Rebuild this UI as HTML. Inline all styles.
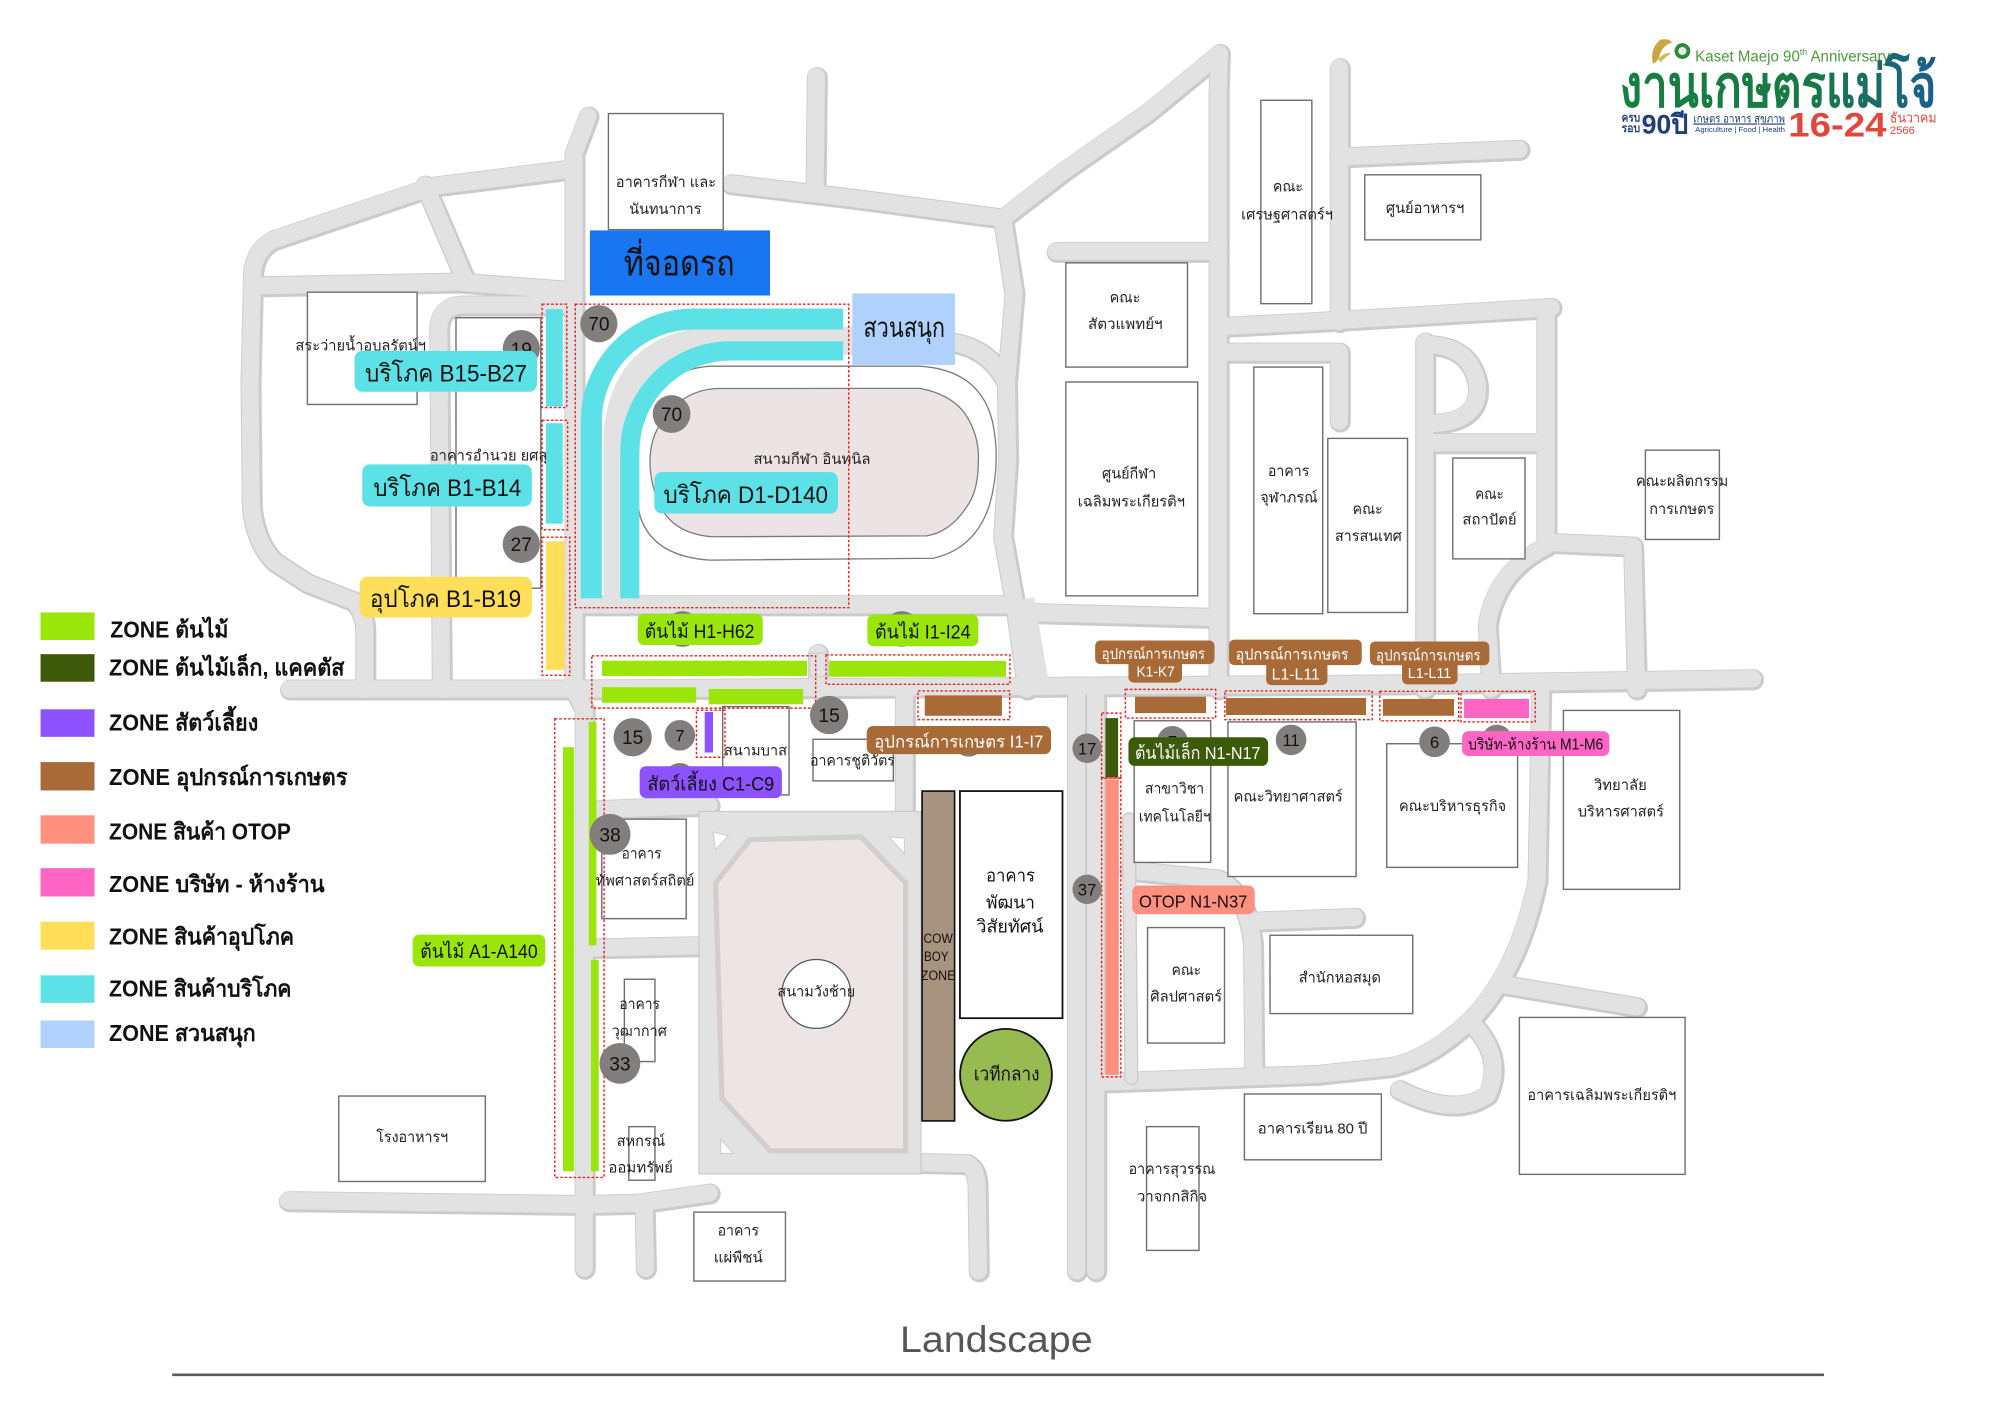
<!DOCTYPE html>
<html><head><meta charset="utf-8"><title>Kaset Maejo map</title>
<style>
html,body{margin:0;padding:0;background:#fff;width:2000px;height:1415px;overflow:hidden}
svg{display:block}
text{font-family:"Liberation Sans","DejaVu Sans",sans-serif}
.b{fill:#fff;stroke:#6e6e6e;stroke-width:1.1}
.bt{font-size:11.5px;fill:#222}
.dz{fill:none;stroke:#f21d1d;stroke-width:1.1;stroke-dasharray:2 1.5}
.c{fill:#827e7e}
.n{font-size:15px;fill:#111;text-anchor:middle}
.ns{font-size:13px;fill:#111;text-anchor:middle}
.lg{font-size:18px;font-weight:bold;fill:#111}
</style></head><body>
<svg width="2000" height="1415" viewBox="0 0 1568 1109" preserveAspectRatio="none" xmlns="http://www.w3.org/2000/svg">
<defs>
<g id="roads" fill="none" stroke-linecap="round" stroke-linejoin="round">
<path d="M227,540 L450,540 L800,538 L1100,536 L1374,532"/>
<path d="M461,91 L450,120 L450,540 L458,556 L458,994"/>
<path d="M443,133 L339,146 L214,188 Q199,196 198,215 L196,300 L197,397 Q200,425 215,440 L241,457 L277,471 Q286,480 286,495 L286,540"/>
<path d="M333,145 L365,220"/>
<path d="M202,224 L360,221 L450,228"/>
<path d="M450,239 L362,239 Q344,240 344,258 L346,540"/>
<path d="M640,60 L639,150"/>
<path d="M573,144 L666,155 L786,171"/>
<path d="M786,171 L834,134 L900,88 L956,42"/>
<path d="M956,42 L955,72 L955,540"/>
<path d="M828,197 L955,197"/>
<path d="M786,171 L795,230 L789,300 L790,360 L786,420 L795,470 L805,540"/>
<path d="M452,474 L790,474 L805,480 L955,484"/>
<path d="M1050,53 L1050,252"/>
<path d="M1050,123 L1191,117"/>
<path d="M955,256 L1050,251 L1216,241"/>
<path d="M955,276 L1050,276 L1050,330"/>
<path d="M1117,268 L1117,540"/>
<path d="M1117,270 Q1152,270 1158,300 Q1162,332 1118,332"/>
<path d="M1117,347 L1210,347"/>
<path d="M1212,241 L1212,425 L1280,428 L1283,540"/>
<path d="M1212,428 Q1172,448 1166,490 L1169,540"/>
<path d="M1208,540 L1205,690 Q1190,762 1152,800 Q1120,830 1090,836 L1033,842 L866,848"/>
<path d="M1175,771 L1283,789"/>
<path d="M1152,800 Q1180,828 1166,858 Q1140,876 1097,854"/>
<path d="M844,540 L844,996"/>
<path d="M859,540 L859,996"/>
<path d="M885,682 L955,689 Q978,700 982,740 L983,840"/>
<path d="M982,722 L1062,719"/>
<path d="M458,635 L556,631"/>
<path d="M458,743 L556,741"/>
<path d="M709,540 L709,642"/>
<path d="M226,941 L458,944 L500,943 L556,935"/>
<path d="M505,944 L506,994"/>
<path d="M716,911 L758,912 Q766,916 766,930 L767,996"/>
<path d="M641,512 L641,540"/>
<path d="M484,469 L484,350 Q484,268 568,266 L745,268 Q775,272 789,300"/>
</g>
<linearGradient id="lg" x1="0" x2="1" y1="0" y2="0">
<stop offset="0" stop-color="#15803f"/><stop offset="0.6" stop-color="#177a45"/><stop offset="1" stop-color="#1b5f8e"/>
</linearGradient>
</defs>
<rect width="1568" height="1109" fill="#fff"/>

<!-- roads -->
<use href="#roads" stroke="#cbcbcb" stroke-width="16.5" transform="translate(0.8,0.8)"/>
<use href="#roads" stroke="#e2e2e2" stroke-width="13.5"/>
<path d="M885,642 L887,845" stroke="#cbcbcb" stroke-width="11" stroke-linecap="round" fill="none"/>
<path d="M885,642 L887,845" stroke="#e2e2e2" stroke-width="9" stroke-linecap="round" fill="none"/>
<path d="M484,469 L484,350 Q484,268 568,266 L745,268" stroke="#e2e2e2" stroke-width="22" fill="none"/>
<path d="M800,470 L812,540" stroke="#e2e2e2" stroke-width="22" fill="none"/>

<!-- field ring + field -->
<rect x="548" y="636" width="174" height="284" fill="#e2e2e2" stroke="#cbcbcb" stroke-width="1"/>
<polygon points="588,658 675,656 710,692 710,902 604,902 566,861 561,692" fill="#ede4e5" stroke="#d4cdcd" stroke-width="4"/>
<polygon points="559,652 571,655 561,666" fill="#fff" stroke="#ccc" stroke-width="0.8"/>
<polygon points="697,656 709,657 709,669" fill="#fff" stroke="#ccc" stroke-width="0.8"/>
<polygon points="565,893 575,904 565,904" fill="#fff" stroke="#ccc" stroke-width="0.8"/>
<circle cx="640" cy="779" r="27" fill="#fff" stroke="#555" stroke-width="1"/>

<!-- stadium -->
<path d="M556.6,287 L721.3,287 Q768,290 778,330 Q785,362 776,395 Q765,430 731.7,437.5 L556.6,439 Q512,436 502,405 Q494,370 500,330 Q515,290 556.6,287 Z" fill="#fff" stroke="#7a7a7a" stroke-width="1"/>
<path d="M561.9,304.5 L721.3,304.4 Q750,310 760,330 Q768,345 767,362 Q767,385 757.9,397.2 Q745,417 726.5,420 L558,420.7 Q528,418 518,397 Q509.6,380 509.6,362 Q509.6,342 520,329.3 Q535,306 561.9,304.5 Z" fill="#ece3e4" stroke="#7a7a7a" stroke-width="1"/>

<!-- buildings -->
<rect class="b" x="477" y="89" width="90" height="91"/>
<rect class="b" x="241" y="229" width="86" height="88"/>
<rect class="b" x="357.5" y="249" width="66.5" height="212"/>
<rect class="b" x="988.5" y="78.6" width="40" height="159.4"/>
<rect class="b" x="1070" y="137" width="91" height="51"/>
<rect class="b" x="835.6" y="206" width="95.4" height="81.7"/>
<rect class="b" x="835.6" y="299.4" width="103.4" height="167.6"/>
<rect class="b" x="983" y="287.7" width="54" height="193.3"/>
<rect class="b" x="1041" y="343.6" width="62.5" height="136.4"/>
<rect class="b" x="1139" y="359" width="56.6" height="79"/>
<rect class="b" x="1290" y="352.8" width="58" height="70"/>
<rect class="b" x="566.6" y="553.8" width="52" height="69.2"/>
<rect class="b" x="637.4" y="579.4" width="63" height="32.6"/>
<rect class="b" x="471.8" y="642" width="66.2" height="78"/>
<rect class="b" x="489.5" y="767.5" width="24" height="64.5"/>
<rect class="b" x="493" y="883" width="20.5" height="42"/>
<rect class="b" x="265.6" y="859" width="114.9" height="67"/>
<rect class="b" x="544" y="950" width="71.8" height="54"/>
<rect x="752.6" y="620" width="80.4" height="178" fill="#fff" stroke="#111" stroke-width="1.4"/>
<rect x="722.9" y="620" width="25.5" height="258.5" fill="#a8937e" stroke="#111" stroke-width="1.3"/>
<circle cx="788.7" cy="842.4" r="36" fill="#98bb51" stroke="#111" stroke-width="1.4"/>
<rect class="b" x="889.2" y="564.9" width="60" height="111"/>
<rect class="b" x="962.7" y="565.8" width="100.5" height="121.2"/>
<rect class="b" x="1087.2" y="582.9" width="102.6" height="96.9"/>
<rect class="b" x="1225.7" y="556.8" width="91.2" height="140.2"/>
<rect class="b" x="899.7" y="727" width="60.3" height="90.5"/>
<rect class="b" x="995.7" y="733" width="111.9" height="61.4"/>
<rect class="b" x="1191.2" y="797.4" width="129.9" height="123"/>
<rect class="b" x="975.6" y="857.4" width="107.4" height="51.6"/>
<rect class="b" x="898.9" y="883" width="41.1" height="97"/>

<!-- building texts -->
<g class="bt" lengthAdjust="spacingAndGlyphs">
<text x="482.8" y="146.5" textLength="78.6" lengthAdjust="spacingAndGlyphs">อาคารกีฬา และ</text>
<text x="493.2" y="167.6" textLength="56.8" lengthAdjust="spacingAndGlyphs">นันทนาการ</text>
<text x="231.6" y="274.8" textLength="102.4" lengthAdjust="spacingAndGlyphs">สระว่ายน้ำอบลรัตน์ฯ</text>
<text x="337" y="361" textLength="100" lengthAdjust="spacingAndGlyphs">อาคารอำนวย ยศสุข</text>
<text x="590.7" y="363.6" textLength="91.8" lengthAdjust="spacingAndGlyphs">สนามกีฬา อินทนิล</text>
<text x="998" y="150" textLength="23.5" lengthAdjust="spacingAndGlyphs">คณะ</text>
<text x="973" y="172" textLength="72" lengthAdjust="spacingAndGlyphs">เศรษฐศาสตร์ฯ</text>
<text x="1086.5" y="167" textLength="61.5" lengthAdjust="spacingAndGlyphs">ศูนย์อาหารฯ</text>
<text x="870" y="237" textLength="24" lengthAdjust="spacingAndGlyphs">คณะ</text>
<text x="853" y="258" textLength="58.5" lengthAdjust="spacingAndGlyphs">สัตวแพทย์ฯ</text>
<text x="864" y="375" textLength="42.5" lengthAdjust="spacingAndGlyphs">ศูนย์กีฬา</text>
<text x="845" y="397" textLength="84" lengthAdjust="spacingAndGlyphs">เฉลิมพระเกียรติฯ</text>
<text x="994" y="373" textLength="32.5" lengthAdjust="spacingAndGlyphs">อาคาร</text>
<text x="988" y="394" textLength="45" lengthAdjust="spacingAndGlyphs">จุฬาภรณ์</text>
<text x="1060.5" y="403" textLength="23.5" lengthAdjust="spacingAndGlyphs">คณะ</text>
<text x="1046.5" y="424" textLength="52.5" lengthAdjust="spacingAndGlyphs">สารสนเทศ</text>
<text x="1156.5" y="391" textLength="22.5" lengthAdjust="spacingAndGlyphs">คณะ</text>
<text x="1146.5" y="411" textLength="42.5" lengthAdjust="spacingAndGlyphs">สถาปัตย์</text>
<text x="1282.5" y="381" textLength="72.5" lengthAdjust="spacingAndGlyphs">คณะผลิตกรรม</text>
<text x="1293" y="403" textLength="51" lengthAdjust="spacingAndGlyphs">การเกษตร</text>
<text x="567.5" y="592" textLength="49.5" lengthAdjust="spacingAndGlyphs">สนามบาส</text>
<text x="635" y="600" textLength="66.6" lengthAdjust="spacingAndGlyphs">อาคารชูติวัตร</text>
<text x="487.4" y="673" textLength="31.2" lengthAdjust="spacingAndGlyphs">อาคาร</text>
<text x="467" y="694" textLength="77.4" lengthAdjust="spacingAndGlyphs">ทัพศาสตร์สถิตย์</text>
<text x="485.6" y="791" textLength="31.8" lengthAdjust="spacingAndGlyphs">อาคาร</text>
<text x="479.6" y="812" textLength="43.2" lengthAdjust="spacingAndGlyphs">วุฒากาศ</text>
<text x="483.5" y="898" textLength="38" lengthAdjust="spacingAndGlyphs">สหกรณ์</text>
<text x="477" y="919" textLength="50.6" lengthAdjust="spacingAndGlyphs">ออมทรัพย์</text>
<text x="609.5" y="781" textLength="61" lengthAdjust="spacingAndGlyphs">สนามวังช้าย</text>
<text x="897.6" y="622" textLength="46.5" lengthAdjust="spacingAndGlyphs">สาขาวิชา</text>
<text x="892.8" y="644" textLength="56.4" lengthAdjust="spacingAndGlyphs">เทคโนโลยีฯ</text>
<text x="967.2" y="628" textLength="85.5" lengthAdjust="spacingAndGlyphs">คณะวิทยาศาสตร์</text>
<text x="1096.8" y="635.5" textLength="84" lengthAdjust="spacingAndGlyphs">คณะบริหารธุรกิจ</text>
<text x="1249.7" y="619" textLength="41.4" lengthAdjust="spacingAndGlyphs">วิทยาลัย</text>
<text x="1237" y="640" textLength="67.5" lengthAdjust="spacingAndGlyphs">บริหารศาสตร์</text>
<text x="918.6" y="764" textLength="23" lengthAdjust="spacingAndGlyphs">คณะ</text>
<text x="901.8" y="785" textLength="56.4" lengthAdjust="spacingAndGlyphs">ศิลปศาสตร์</text>
<text x="1018.2" y="770" textLength="64.5" lengthAdjust="spacingAndGlyphs">สำนักหอสมุด</text>
<text x="1197.5" y="862" textLength="116.7" lengthAdjust="spacingAndGlyphs">อาคารเฉลิมพระเกียรติฯ</text>
<text x="986.1" y="888.5" textLength="86" lengthAdjust="spacingAndGlyphs">อาคารเรียน 80 ปี</text>
<text x="884.8" y="920" textLength="68" lengthAdjust="spacingAndGlyphs">อาคารสุวรรณ</text>
<text x="891.4" y="941.5" textLength="55" lengthAdjust="spacingAndGlyphs">วาจกกสิกิจ</text>
<text x="295" y="895" textLength="56.4" lengthAdjust="spacingAndGlyphs">โรงอาหารฯ</text>
<text x="562.6" y="968.5" textLength="32.4" lengthAdjust="spacingAndGlyphs">อาคาร</text>
<text x="559.6" y="989.5" textLength="38.4" lengthAdjust="spacingAndGlyphs">แผ่พืชน์</text>
</g>
<g fill="#111" font-size="14">
<text x="773" y="691" textLength="38.4" lengthAdjust="spacingAndGlyphs">อาคาร</text>
<text x="773" y="712" textLength="38.4" lengthAdjust="spacingAndGlyphs">พัฒนา</text>
<text x="765.5" y="731" textLength="52.5" lengthAdjust="spacingAndGlyphs">วิสัยทัศน์</text>
</g>
<g fill="#111" font-size="10.5">
<text x="724" y="739" textLength="23" lengthAdjust="spacingAndGlyphs">COW</text>
<text x="724.4" y="753" textLength="19.2" lengthAdjust="spacingAndGlyphs">BOY</text>
<text x="722" y="768" textLength="27" lengthAdjust="spacingAndGlyphs">ZONE</text>
</g>
<text x="763.4" y="847" font-size="15" fill="#111" textLength="51.6" lengthAdjust="spacingAndGlyphs">เวทีกลาง</text>

<!-- zone strips: left column -->
<rect x="428" y="242.3" width="13.2" height="76.4" fill="#5ce1e6"/>
<rect class="dz" x="425" y="238.4" width="19.4" height="81"/>
<rect x="428" y="331.7" width="13.2" height="78.7" fill="#5ce1e6"/>
<rect class="dz" x="425" y="329.4" width="20" height="85.8"/>
<rect x="428" y="424.3" width="14.8" height="100.7" fill="#ffde59"/>
<rect class="dz" x="425" y="421" width="21.7" height="108.3"/>

<!-- D zone -->
<path d="M661,250 L543.5,250 A80,80 0 0 0 463.6,330 L463.6,469" fill="none" stroke="#5ce1e6" stroke-width="16.5"/>
<path d="M661,275 L572.8,275 A79,79 0 0 0 493.8,354 L493.8,469" fill="none" stroke="#5ce1e6" stroke-width="15"/>
<rect class="dz" x="451" y="238.4" width="214.4" height="237.9"/>

<!-- H / I zones -->
<rect x="635" y="512" width="14" height="18" fill="#e2e2e2" stroke="#cbcbcb" stroke-width="0.8"/>
<rect x="472" y="517.8" width="160.7" height="12" fill="#9ae60a"/>
<rect x="472" y="538.6" width="73.7" height="12.2" fill="#9ae60a"/>
<rect x="555.6" y="540" width="74" height="12" fill="#9ae60a"/>
<rect class="dz" x="464" y="514" width="175.5" height="41"/>
<rect x="650" y="518" width="138.7" height="12.4" fill="#9ae60a"/>
<rect class="dz" x="647.6" y="513.3" width="144.2" height="23"/>

<!-- C zone -->
<rect x="552.5" y="558" width="6.5" height="31.8" fill="#8c52ff"/>
<rect class="dz" x="546" y="556.6" width="22.4" height="36.9"/>

<!-- I1-I7 -->
<rect x="725" y="545" width="60.5" height="16" fill="#a86b37"/>
<rect class="dz" x="719.7" y="541.5" width="71.9" height="22.5"/>

<!-- K, L, M -->
<rect x="889.8" y="546" width="55.8" height="12.9" fill="#a86b37"/>
<rect class="dz" x="882.3" y="540.3" width="70.8" height="22.5"/>
<rect x="961.2" y="547" width="109.8" height="13.4" fill="#a86b37"/>
<rect class="dz" x="960.3" y="541.5" width="115.5" height="22.5"/>
<rect x="1084.2" y="547.8" width="55.8" height="13.2" fill="#a86b37"/>
<rect class="dz" x="1081.8" y="541.8" width="61.8" height="23.1"/>
<rect x="1147.8" y="547.8" width="51" height="15" fill="#ff66c4"/>
<rect class="dz" x="1145.4" y="541.8" width="58.2" height="24"/>

<!-- N zone -->
<rect x="866.7" y="562.8" width="9.9" height="46.2" fill="#3c5a0a"/>
<rect class="dz" x="863.7" y="558.9" width="15" height="51"/>
<rect x="866.7" y="610.8" width="10.5" height="231.6" fill="#ff8f7f"/>
<rect class="dz" x="863.7" y="609.5" width="15" height="234.5"/>

<!-- A zone -->
<rect x="441.4" y="585.6" width="8.6" height="332.4" fill="#9ae60a"/>
<rect x="461.6" y="565.8" width="6" height="175.2" fill="#9ae60a"/>
<rect x="463.4" y="752.4" width="6" height="165.6" fill="#9ae60a"/>
<rect class="dz" x="434.9" y="563.4" width="38.7" height="359.4"/>

<!-- numbered circles -->
<circle class="c" cx="469.5" cy="253.7" r="14.6"/><text class="n" x="469.5" y="259">70</text>
<circle class="c" cx="526.5" cy="324.5" r="14.8"/><text class="n" x="526.5" y="330">70</text>
<circle class="c" cx="408.7" cy="273.2" r="14.6"/><text class="n" x="408.7" y="279">19</text>
<circle class="c" cx="408.7" cy="426.6" r="14.6"/><text class="n" x="408.7" y="432">27</text>
<circle class="c" cx="535" cy="493" r="14"/>
<circle class="c" cx="707" cy="493" r="14"/>
<circle class="c" cx="496" cy="577.8" r="15"/><text class="n" x="496" y="583.3">15</text>
<circle class="c" cx="533" cy="576.3" r="12"/><text class="ns" x="533" y="581">7</text>
<circle class="c" cx="533" cy="610" r="12"/>
<circle class="c" cx="650" cy="560.4" r="15"/><text class="n" x="650" y="566">15</text>
<circle class="c" cx="759.5" cy="581" r="12"/>
<circle class="c" cx="852.3" cy="586.5" r="11.5"/><text class="ns" x="852.3" y="591.3">17</text>
<circle class="c" cx="852.3" cy="697" r="11.5"/><text class="ns" x="852.3" y="701.8">37</text>
<circle class="c" cx="919.2" cy="581" r="12"/><text class="ns" x="919.2" y="586">7</text>
<circle class="c" cx="1012.2" cy="579.9" r="12"/><text class="ns" x="1012.2" y="584.8">11</text>
<circle class="c" cx="1124.7" cy="581.4" r="12"/><text class="ns" x="1124.7" y="586.3">6</text>
<circle class="c" cx="1173.6" cy="580" r="12"/>
<circle class="c" cx="478.3" cy="653.9" r="16"/><text class="n" x="478.3" y="659.5">38</text>
<circle class="c" cx="486" cy="833.4" r="16"/><text class="n" x="486" y="839">33</text>

<!-- labels -->
<rect x="278" y="275" width="143" height="32" rx="6" fill="#5ce1e6"/>
<text x="286.2" y="299" font-size="19" fill="#111" textLength="127" lengthAdjust="spacingAndGlyphs">บริโภค B15-B27</text>
<rect x="284" y="364" width="133" height="33" rx="6" fill="#5ce1e6"/>
<text x="292.7" y="388.6" font-size="19" fill="#111" textLength="116" lengthAdjust="spacingAndGlyphs">บริโภค B1-B14</text>
<rect x="282" y="452" width="135" height="32" rx="6" fill="#ffde59"/>
<text x="290" y="475.7" font-size="19" fill="#111" textLength="118.6" lengthAdjust="spacingAndGlyphs">อุปโภค B1-B19</text>
<rect x="513" y="370" width="144" height="32.5" rx="6" fill="#5ce1e6"/>
<text x="520.2" y="394.4" font-size="19" fill="#111" textLength="129" lengthAdjust="spacingAndGlyphs">บริโภค D1-D140</text>

<rect x="462.5" y="180.6" width="141.2" height="51" fill="#1976f2"/>
<text x="489" y="216" font-size="28" fill="#111" textLength="87" lengthAdjust="spacingAndGlyphs">ที่จอดรถ</text>
<rect x="668.2" y="230" width="80.5" height="56" fill="#b0d1fb"/>
<text x="676.9" y="264" font-size="22" fill="#111" textLength="64" lengthAdjust="spacingAndGlyphs">สวนสนุก</text>

<rect x="500" y="481" width="98" height="24.5" rx="5" fill="#9ae60a"/>
<text x="505.5" y="500" font-size="15" fill="#111" textLength="86" lengthAdjust="spacingAndGlyphs">ต้นไม้ H1-H62</text>
<rect x="680" y="481.5" width="87" height="25" rx="5" fill="#9ae60a"/>
<text x="686" y="500.5" font-size="15" fill="#111" textLength="75" lengthAdjust="spacingAndGlyphs">ต้นไม้ I1-I24</text>
<rect x="323.5" y="732.5" width="104" height="25" rx="5" fill="#9ae60a"/>
<text x="329.5" y="750.9" font-size="15" fill="#111" textLength="92" lengthAdjust="spacingAndGlyphs">ต้นไม้ A1-A140</text>
<rect x="501.5" y="600.5" width="111.5" height="25" rx="5" fill="#8c52ff"/>
<text x="507.5" y="619.5" font-size="15" fill="#111" textLength="99.5" lengthAdjust="spacingAndGlyphs">สัตว์เลี้ยง  C1-C9</text>
<rect x="679.5" y="569" width="144.5" height="22" rx="5" fill="#a86b37"/>
<text x="685.4" y="586" font-size="13.5" fill="#fff" textLength="132.6" lengthAdjust="spacingAndGlyphs">อุปกรณ์การเกษตร  I1-I7</text>

<rect x="858.6" y="502" width="93.6" height="18.5" rx="4" fill="#a86b37"/>
<rect x="884.7" y="515" width="42" height="20" rx="4" fill="#a86b37"/>
<text x="863.7" y="516.5" font-size="11.5" fill="#fff" textLength="81" lengthAdjust="spacingAndGlyphs">อุปกรณ์การเกษตร</text>
<text x="891" y="530.4" font-size="11.5" fill="#fff" textLength="30" lengthAdjust="spacingAndGlyphs">K1-K7</text>
<rect x="963.6" y="501.3" width="104" height="20" rx="4" fill="#a86b37"/>
<rect x="992.7" y="515" width="48" height="22" rx="4" fill="#a86b37"/>
<text x="968.7" y="517" font-size="12" fill="#fff" textLength="88.5" lengthAdjust="spacingAndGlyphs">อุปกรณ์การเกษตร</text>
<text x="997" y="532.5" font-size="12" fill="#fff" textLength="37.7" lengthAdjust="spacingAndGlyphs">L1-L11</text>
<rect x="1074" y="502.8" width="93.6" height="18.6" rx="4" fill="#a86b37"/>
<rect x="1099.2" y="515" width="43.5" height="21.4" rx="4" fill="#a86b37"/>
<text x="1078.8" y="517.5" font-size="11.5" fill="#fff" textLength="82" lengthAdjust="spacingAndGlyphs">อุปกรณ์การเกษตร</text>
<text x="1103.7" y="531.5" font-size="11.5" fill="#fff" textLength="34" lengthAdjust="spacingAndGlyphs">L1-L11</text>

<rect x="884.7" y="577.8" width="109.5" height="22.5" rx="5" fill="#3b5b08"/>
<text x="889.8" y="594.9" font-size="14" fill="#fff" textLength="98.4" lengthAdjust="spacingAndGlyphs">ต้นไม้เล็ก N1-N17</text>
<rect x="887.7" y="694" width="96" height="22.5" rx="5" fill="#ff8f7f"/>
<text x="893" y="711.3" font-size="14" fill="#111" textLength="85" lengthAdjust="spacingAndGlyphs">OTOP  N1-N37</text>
<rect x="1146.3" y="573" width="115.5" height="19.5" rx="5" fill="#ff66c4"/>
<text x="1151" y="587.4" font-size="12" fill="#111" textLength="106" lengthAdjust="spacingAndGlyphs">บริษัท-ห้างร้าน  M1-M6</text>

<!-- legend -->
<rect x="31.8" y="480" width="42.3" height="21.6" fill="#9ae60a"/>
<rect x="31.8" y="512.7" width="42.3" height="21.6" fill="#3c5a0a"/>
<rect x="31.8" y="555.9" width="42.3" height="21.6" fill="#8c52ff"/>
<rect x="31.8" y="597.3" width="42.3" height="22.2" fill="#a86b37"/>
<rect x="31.8" y="639" width="42.3" height="22.2" fill="#ff8f7f"/>
<rect x="31.8" y="680.4" width="42.3" height="22.2" fill="#ff66c4"/>
<rect x="31.8" y="722.4" width="42.3" height="21.9" fill="#ffde59"/>
<rect x="31.8" y="764.4" width="42.3" height="21.6" fill="#5ce1e6"/>
<rect x="31.8" y="799.8" width="42.3" height="21.6" fill="#b0d1fb"/>
<text class="lg" x="86.4" y="499.5" textLength="92.7" lengthAdjust="spacingAndGlyphs">ZONE ต้นไม้</text>
<text class="lg" x="85.5" y="529.5" textLength="184.5" lengthAdjust="spacingAndGlyphs">ZONE ต้นไม้เล็ก, แคคตัส</text>
<text class="lg" x="85.5" y="572.4" textLength="117" lengthAdjust="spacingAndGlyphs">ZONE สัตว์เลี้ยง</text>
<text class="lg" x="85.5" y="615.3" textLength="187" lengthAdjust="spacingAndGlyphs">ZONE อุปกรณ์การเกษตร</text>
<text class="lg" x="85.5" y="657.9" textLength="142.5" lengthAdjust="spacingAndGlyphs">ZONE สินค้า OTOP</text>
<text class="lg" x="85.5" y="699" textLength="169" lengthAdjust="spacingAndGlyphs">ZONE บริษัท - ห้างร้าน</text>
<text class="lg" x="85.5" y="740.4" textLength="145" lengthAdjust="spacingAndGlyphs">ZONE สินค้าอุปโภค</text>
<text class="lg" x="85.5" y="781" textLength="143" lengthAdjust="spacingAndGlyphs">ZONE สินค้าบริโภค</text>
<text class="lg" x="85.5" y="816" textLength="115" lengthAdjust="spacingAndGlyphs">ZONE สวนสนุก</text>

<!-- logo -->
<path d="M1296,50 Q1293,38 1302,31 Q1308,30 1311,33 Q1303,36 1301,44 Q1300,48 1296,50 Z" fill="#c9a640"/>
<path d="M1300,46 Q1306,40 1310,42 Q1305,45 1302,49 Z" fill="#d8b857"/>
<circle cx="1319" cy="40" r="6.2" fill="#2a8a3c"/>
<circle cx="1319" cy="40" r="3.2" fill="#dfeedc"/>
<text x="1329" y="48.3" font-size="12" fill="#4b9a3c" textLength="152.8" lengthAdjust="spacingAndGlyphs">Kaset Maejo 90<tspan font-size="7" dy="-5">th</tspan><tspan dy="5"> Anniversary</tspan></text>
<text x="1270" y="83.5" font-size="46" font-weight="bold" fill="url(#lg)" textLength="248" lengthAdjust="spacingAndGlyphs">งานเกษตรแม่โจ้</text>
<text x="1271.4" y="95.4" font-size="8.5" font-weight="bold" fill="#1f3d7a" textLength="14.4" lengthAdjust="spacingAndGlyphs">ครบ</text>
<text x="1271.4" y="103.4" font-size="8.5" font-weight="bold" fill="#1f3d7a" textLength="14.4" lengthAdjust="spacingAndGlyphs">รอบ</text>
<text x="1287" y="104.5" font-size="21" font-weight="bold" fill="#1f3d7a" textLength="36.6" lengthAdjust="spacingAndGlyphs">90ปี</text>
<text x="1327.6" y="96" font-size="9" fill="#1f3d7a" text-decoration="underline" textLength="71.8" lengthAdjust="spacingAndGlyphs">เกษตร อาหาร สุขภาพ</text>
<text x="1329" y="103.5" font-size="6" fill="#1f3d7a" textLength="70.4" lengthAdjust="spacingAndGlyphs">Agriculture | Food | Health</text>
<text x="1402" y="107" font-size="27" font-weight="bold" fill="#e5463c" textLength="77" lengthAdjust="spacingAndGlyphs">16-24</text>
<text x="1481.7" y="96" font-size="11" fill="#e5463c" textLength="36.6" lengthAdjust="spacingAndGlyphs">ธันวาคม</text>
<text x="1481.7" y="105" font-size="8.5" fill="#e5463c" textLength="19.6" lengthAdjust="spacingAndGlyphs">2566</text>

<!-- footer -->
<text x="705.6" y="1059.5" font-size="29" fill="#555" textLength="151" lengthAdjust="spacingAndGlyphs">Landscape</text>
<line x1="135" y1="1077.5" x2="1430" y2="1077.5" stroke="#5a5a5a" stroke-width="2"/>
</svg>
</body></html>
